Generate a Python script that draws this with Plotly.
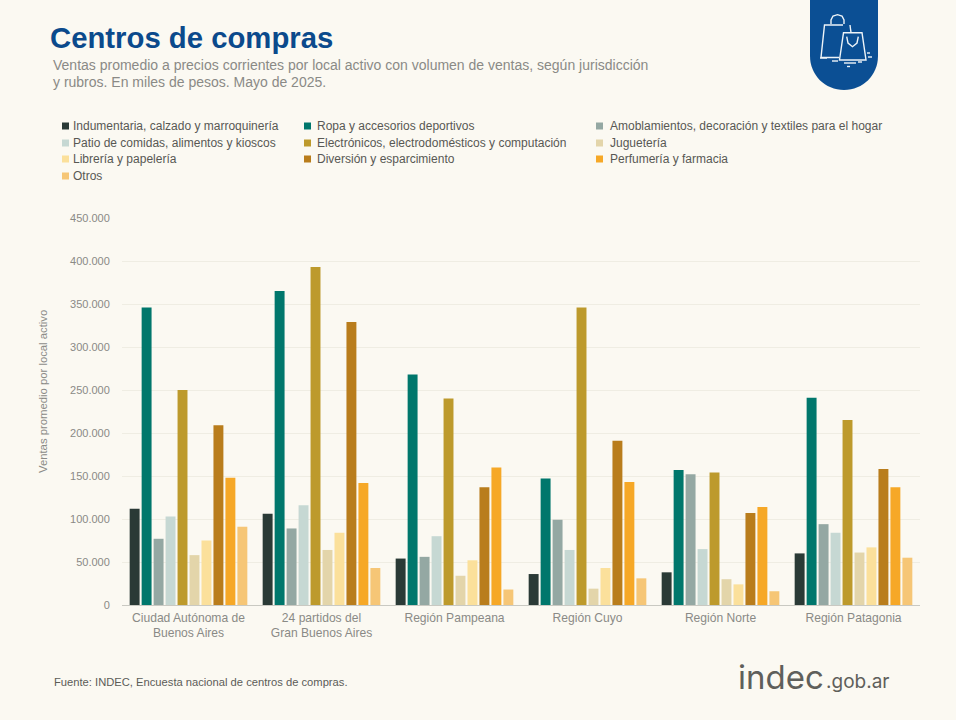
import plotly.graph_objects as go

regions = ["Ciudad Autónoma de<br>Buenos Aires", "24 partidos del<br>Gran Buenos Aires", "Región Pampeana",
           "Región Cuyo", "Región Norte", "Región Patagonia"]
indumentaria = [112000, 106000, 54000, 36000, 38000, 60000]
ropa = [346000, 365000, 268000, 147000, 157000, 241000]
amoblamientos = [77000, 89000, 56000, 99000, 152000, 94000]
patio = [103000, 116000, 80000, 64000, 65000, 84000]
electronicos = [250000, 393000, 240000, 346000, 154000, 215000]
jugueteria = [58000, 64000, 34000, 19000, 30000, 61000]
libreria = [75000, 84000, 52000, 43000, 24000, 67000]
diversion = [209000, 329000, 137000, 191000, 107000, 158000]
perfumeria = [148000, 142000, 160000, 143000, 114000, 137000]
otros = [91000, 43000, 18000, 31000, 16000, 55000]

series_names = ["Indumentaria, calzado y marroquinería", "Ropa y accesorios deportivos",
                "Amoblamientos, decoración y textiles para el hogar", "Patio de comidas, alimentos y kioscos",
                "Electrónicos, electrodomésticos y computación", "Juguetería", "Librería y papelería",
                "Diversión y esparcimiento", "Perfumería y farmacia", "Otros"]
series_values = [indumentaria, ropa, amoblamientos, patio, electronicos, jugueteria, libreria, diversion,
                 perfumeria, otros]
colors = ["#2a3a36", "#00776c", "#94a8a3", "#c6d8d3", "#bd9a2c", "#e3d5aa", "#fbe09b", "#b97d1c", "#f6a827", "#f6c676"]

PL, PR, PT, PB = 122, 920, 217, 605
def X(p): return (p - PL) / (PR - PL)
def Y(p): return (PB - p) / (PB - PT)
def path(points, close=False):
    d = "M" + " L".join(f"{X(x):.5f},{Y(y):.5f}" for x, y in points)
    return d + (" Z" if close else "")

fig = go.Figure()
for name, vals, col in zip(series_names, series_values, colors):
    fig.add_trace(go.Bar(x=regions, y=vals, name=name, marker=dict(color=col, line=dict(width=0))))

ann = []
def text(x, y, s, size, color, family="Liberation Sans", anchor="left", angle=0):
    ann.append(dict(x=X(x), y=Y(y), xref="paper", yref="paper", text=s, showarrow=False, xanchor=anchor,
                    yanchor="middle", align="left", borderpad=0, textangle=angle,
                    font=dict(size=size, color=color, family=family)))

text(49, 37, "<b>Centros de compras</b>", 29.3, "#0b4a8c")
text(52, 65, "Ventas promedio a precios corrientes por local activo con volumen de ventas, según jurisdicción", 14, "#8a8a86")
text(52, 82, "y rubros. En miles de pesos. Mayo de 2025.", 14, "#8a8a86")
text(53, 682, "Fuente: INDEC, Encuesta nacional de centros de compras.", 11.2, "#5c5c58")
text(737, 677, "indec", 33, "#5f5f5b", "Inter")
text(825, 681, ".gob.ar", 19, "#5f5f5b", "Inter")
text(43, 392, "Ventas promedio por local activo", 11.3, "#8a8a86", anchor="center", angle=-90)

shapes = []
# legend: swatch plus label per series
legend_pos = [(62, 126), (304, 126), (596, 126), (62, 143), (304, 143), (596, 143), (62, 159), (304, 159), (596, 159), (62, 176)]
for (lx, ly), name, col in zip(legend_pos, series_names, colors):
    shapes.append(dict(type="rect", xref="paper", yref="paper", x0=X(lx), x1=X(lx + 7), y0=Y(ly + 3.5), y1=Y(ly - 3.5),
                       fillcolor=col, line=dict(width=0)))
    text(lx + 10 if lx == 62 else lx + 12 if lx == 304 else lx + 13, ly, name, 12, "#585854")

# badge
badge = (f"M{X(810):.5f},{Y(-2):.5f} L{X(878):.5f},{Y(-2):.5f} L{X(878):.5f},{Y(56):.5f} "
         f"C{X(878):.5f},{Y(75):.5f} {X(863):.5f},{Y(90):.5f} {X(844):.5f},{Y(90):.5f} "
         f"C{X(825):.5f},{Y(90):.5f} {X(810):.5f},{Y(75):.5f} {X(810):.5f},{Y(56):.5f} Z")
shapes.append(dict(type="path", xref="paper", yref="paper", path=badge, fillcolor="#0b4f94", line=dict(width=0)))
W = dict(color="#eef4f8", width=1.4)
icon_paths = [
    path([(843, 25), (824.5, 25), (821, 57.5), (839, 57.5)]),
    path([(850, 25), (851, 32.5)]),
    path([(843.5, 32.7), (862, 32.7), (866, 60), (839.5, 60)], close=True),
    path([(831, 24), (831, 20), (833, 16), (837.5, 14.7), (842, 16), (844, 20), (844, 24)]),
    path([(846.7, 36.7), (848, 43), (852.5, 46.7), (857, 43), (858.3, 36.7)]),
    path([(820, 58), (827, 58)]), path([(832, 61), (838, 61)]), path([(844, 63), (856, 63)]),
    path([(858, 62), (862, 62)]), path([(847, 66.5), (850, 66.5)]), path([(867, 53), (870, 53)]), path([(868, 57), (872, 57)]),
]
for p in icon_paths:
    shapes.append(dict(type="path", xref="paper", yref="paper", path=p, line=W))

fig.update_layout(
    width=956, height=720, autosize=False,
    margin=dict(l=PL, r=956 - PR, t=PT, b=720 - PB, pad=0),
    paper_bgcolor="#fbf9f2", plot_bgcolor="#fbf9f2",
    separators=",.", barmode="group", bargap=0.1, bargroupgap=0.17, showlegend=False,
    font=dict(family="Liberation Sans", size=12, color="#8a8a86"),
    annotations=ann, shapes=shapes,
    xaxis=dict(showgrid=False, showline=True, linecolor="#c9c9c2", linewidth=1, ticks="outside", ticklen=1,
               tickcolor="rgba(0,0,0,0)", tickfont=dict(size=12.1, color="#8a8a86"),
               tickangle=0, automargin=False, zeroline=False),
    yaxis=dict(range=[0, 451163], tick0=0, dtick=50000, tickformat=",d", gridcolor="#efede3", gridwidth=1, zeroline=False,
               ticks="outside", ticklen=9, tickcolor="rgba(0,0,0,0)", tickfont=dict(size=11, color="#8a8a86"), automargin=False),
)
fig.write_html("out.html", post_script="document.body.style.margin='0';", config=dict(displayModeBar=False))
